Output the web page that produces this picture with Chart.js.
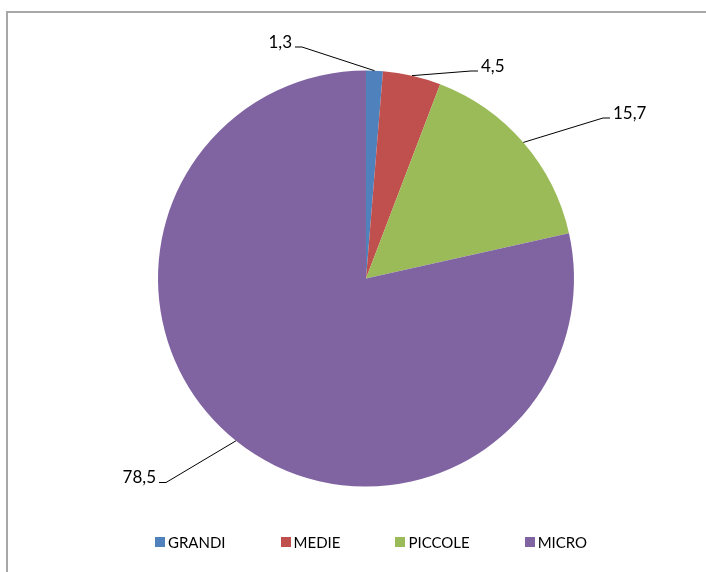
<!DOCTYPE html>
<html lang="it">
<head>
<meta charset="utf-8">
<title>Imprese per dimensione</title>
<script src="https://cdn.jsdelivr.net/npm/chart.js@4.4.1/dist/chart.umd.min.js"></script>
<style>
    html, body {
        margin: 0;
        padding: 0;
        background: #fff;
    }
    #wrap {
        position: relative;
        width: 706px;
        height: 572px;
        overflow: hidden;
    }
    #frame {
        position: absolute;
        left: 6px;
        top: 11px;
        width: 720px;
        height: 600px;
        border-left: 2px solid #a8a8a8;
        border-top: 2px solid #a8a8a8;
        box-sizing: border-box;
    }
    #chart {
        position: absolute;
        left: 0;
        top: 0;
    }
    #legend {
        position: absolute;
        left: 155px;
        top: 533px;
        display: flex;
        gap: 55px;
        font: 15px Lato, sans-serif;
        color: #000;
    }
    #legend .item {
        display: flex;
        align-items: center;
    }
    #legend .box {
        width: 10px;
        height: 10px;
        margin-right: 3px;
    }
</style>
</head>
<body>
<div id="wrap">
    <div id="frame"></div>
    <canvas id="chart" width="706" height="572"></canvas>
    <div id="legend"></div>
</div>
<script>
    const categories = ['GRANDI', 'MEDIE', 'PICCOLE', 'MICRO'];
    const shares = [1.3, 4.5, 15.7, 78.5];
    const colors = ['#4f81bd', '#c0504d', '#9bbb59', '#8064a2'];

    const formatValue = value => value.toFixed(1).replace('.', ',');

    // value labels with a leader line from the slice edge to an elbow point
    const leaderLabels = {
        id: 'leaderLabels',
        afterDatasetsDraw(chart, args, opts) {
            const ctx = chart.ctx;
            const meta = chart.getDatasetMeta(0);
            const values = chart.data.datasets[0].data;

            ctx.save();
            ctx.strokeStyle = '#000';
            ctx.lineWidth = 1;
            ctx.fillStyle = '#000';
            ctx.font = opts.font;
            ctx.textBaseline = 'alphabetic';

            meta.data.forEach((arc, i) => {
                const {x, y, startAngle, endAngle, outerRadius} =
                    arc.getProps(['x', 'y', 'startAngle', 'endAngle', 'outerRadius'], true);
                const mid = (startAngle + endAngle) / 2;
                const edgeX = x + Math.cos(mid) * outerRadius;
                const edgeY = y + Math.sin(mid) * outerRadius;

                const anchor = opts.anchors[i];
                const dir = anchor.dx < 0 ? -1 : 1;
                const elbowX = x + anchor.dx;
                const elbowY = y + anchor.dy;
                const tickX = elbowX + dir * opts.tick;

                ctx.beginPath();
                ctx.moveTo(edgeX, edgeY);
                ctx.lineTo(elbowX, elbowY);
                ctx.lineTo(tickX, elbowY);
                ctx.stroke();

                ctx.textAlign = dir < 0 ? 'right' : 'left';
                ctx.fillText(formatValue(values[i]), tickX + dir * 3, elbowY + 0.5);
            });
            ctx.restore();
        }
    };

    const chart = new Chart(document.getElementById('chart'), {
        type: 'pie',
        data: {
            labels: categories,
            datasets: [{
                data: shares,
                backgroundColor: colors,
                borderWidth: 0,
                hoverOffset: 0
            }]
        },
        options: {
            responsive: false,
            maintainAspectRatio: false,
            devicePixelRatio: 1,
            animation: false,
            layout: {
                padding: {top: 70.5, bottom: 85.5, left: 126, right: 100}
            },
            plugins: {
                legend: {display: false},
                tooltip: {enabled: false},
                leaderLabels: {
                    font: '17px Lato, sans-serif',
                    tick: 7,
                    anchors: [
                        {dx: -64, dy: -231.5},
                        {dx: 105, dy: -207.5},
                        {dx: 237, dy: -160.5},
                        {dx: -200, dy: 204}
                    ]
                }
            }
        },
        plugins: [leaderLabels]
    });

    // html legend built from the same labels and colours
    const legendElement = document.getElementById('legend');
    categories.forEach((name, i) => {
        const item = document.createElement('div');
        item.className = 'item';
        const box = document.createElement('span');
        box.className = 'box';
        box.style.background = colors[i];
        const text = document.createElement('span');
        text.textContent = name;
        item.appendChild(box);
        item.appendChild(text);
        legendElement.appendChild(item);
    });
</script>
</body>
</html>
